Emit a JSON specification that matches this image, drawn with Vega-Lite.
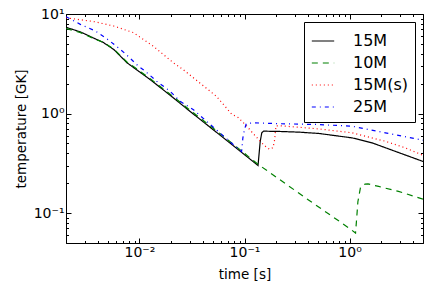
{
  "$schema": "https://vega.github.io/schema/vega-lite/v6.json",
  "autosize": "none",
  "width": 357,
  "height": 229,
  "padding": {"left": 66, "top": 14, "right": 13, "bottom": 51},
  "background": "white",
  "config": {
    "font": "DejaVu Sans",
    "view": {"stroke": null},
    "axis": {"grid": false, "domainColor": "black", "tickColor": "black", "labelColor": "black", "titleColor": "black", "labelFont": "DejaVu Sans", "titleFont": "DejaVu Sans", "labelFontSize": 14, "titleFontSize": 13.5, "titleFontWeight": "normal", "domainWidth": 1, "tickWidth": 1}
  },
  "data": {"values": [
    {"series": "15M", "t": 0.002, "T": 7.35},
    {"series": "15M", "t": 0.00275, "T": 6.6},
    {"series": "15M", "t": 0.0037, "T": 5.7},
    {"series": "15M", "t": 0.0045, "T": 5.2},
    {"series": "15M", "t": 0.0057, "T": 4.4},
    {"series": "15M", "t": 0.0076, "T": 3.24},
    {"series": "15M", "t": 0.0126, "T": 2.2},
    {"series": "15M", "t": 0.02, "T": 1.5},
    {"series": "15M", "t": 0.03, "T": 1.06},
    {"series": "15M", "t": 0.045, "T": 0.755},
    {"series": "15M", "t": 0.06, "T": 0.594},
    {"series": "15M", "t": 0.08, "T": 0.466},
    {"series": "15M", "t": 0.1, "T": 0.386},
    {"series": "15M", "t": 0.12, "T": 0.331},
    {"series": "15M", "t": 0.1345, "T": 0.3},
    {"series": "15M", "t": 0.141, "T": 0.52},
    {"series": "15M", "t": 0.146, "T": 0.64},
    {"series": "15M", "t": 0.152, "T": 0.665},
    {"series": "15M", "t": 0.22, "T": 0.66},
    {"series": "15M", "t": 0.33, "T": 0.65},
    {"series": "15M", "t": 0.513, "T": 0.63},
    {"series": "15M", "t": 1.06, "T": 0.569},
    {"series": "15M", "t": 1.64, "T": 0.507},
    {"series": "15M", "t": 2.72, "T": 0.417},
    {"series": "15M", "t": 5, "T": 0.33},

    {"series": "10M", "t": 0.002, "T": 7.15},
    {"series": "10M", "t": 0.00275, "T": 6.5},
    {"series": "10M", "t": 0.0037, "T": 5.65},
    {"series": "10M", "t": 0.0045, "T": 5.2},
    {"series": "10M", "t": 0.0057, "T": 4.45},
    {"series": "10M", "t": 0.0076, "T": 3.3},
    {"series": "10M", "t": 0.0126, "T": 2.25},
    {"series": "10M", "t": 0.02, "T": 1.54},
    {"series": "10M", "t": 0.03, "T": 1.09},
    {"series": "10M", "t": 0.045, "T": 0.78},
    {"series": "10M", "t": 0.06, "T": 0.615},
    {"series": "10M", "t": 0.08, "T": 0.482},
    {"series": "10M", "t": 0.1, "T": 0.398},
    {"series": "10M", "t": 0.12, "T": 0.34},
    {"series": "10M", "t": 0.14, "T": 0.3},
    {"series": "10M", "t": 0.2, "T": 0.23},
    {"series": "10M", "t": 0.4, "T": 0.137},
    {"series": "10M", "t": 0.7, "T": 0.091},
    {"series": "10M", "t": 1.0, "T": 0.07},
    {"series": "10M", "t": 1.14, "T": 0.063},
    {"series": "10M", "t": 1.17, "T": 0.09},
    {"series": "10M", "t": 1.2, "T": 0.13},
    {"series": "10M", "t": 1.27, "T": 0.18},
    {"series": "10M", "t": 1.4, "T": 0.195},
    {"series": "10M", "t": 1.5, "T": 0.196},
    {"series": "10M", "t": 1.89, "T": 0.185},
    {"series": "10M", "t": 2.92, "T": 0.165},
    {"series": "10M", "t": 5, "T": 0.138},

    {"series": "15M(s)", "t": 0.002, "T": 9.15},
    {"series": "15M(s)", "t": 0.00367, "T": 8.4},
    {"series": "15M(s)", "t": 0.00568, "T": 7.57},
    {"series": "15M(s)", "t": 0.00877, "T": 6.5},
    {"series": "15M(s)", "t": 0.0135, "T": 4.76},
    {"series": "15M(s)", "t": 0.021, "T": 3.24},
    {"series": "15M(s)", "t": 0.026, "T": 2.77},
    {"series": "15M(s)", "t": 0.054, "T": 1.49},
    {"series": "15M(s)", "t": 0.0757, "T": 0.984},
    {"series": "15M(s)", "t": 0.0871, "T": 0.911},
    {"series": "15M(s)", "t": 0.1045, "T": 0.752},
    {"series": "15M(s)", "t": 0.121, "T": 0.629},
    {"series": "15M(s)", "t": 0.14, "T": 0.531},
    {"series": "15M(s)", "t": 0.156, "T": 0.473},
    {"series": "15M(s)", "t": 0.173, "T": 0.437},
    {"series": "15M(s)", "t": 0.187, "T": 0.455},
    {"series": "15M(s)", "t": 0.194, "T": 0.551},
    {"series": "15M(s)", "t": 0.197, "T": 0.67},
    {"series": "15M(s)", "t": 0.2, "T": 0.752},
    {"series": "15M(s)", "t": 0.224, "T": 0.752},
    {"series": "15M(s)", "t": 0.513, "T": 0.7},
    {"series": "15M(s)", "t": 1.06, "T": 0.64},
    {"series": "15M(s)", "t": 2.19, "T": 0.526},
    {"series": "15M(s)", "t": 3.39, "T": 0.452},
    {"series": "15M(s)", "t": 5, "T": 0.38},

    {"series": "25M", "t": 0.002, "T": 9.4},
    {"series": "25M", "t": 0.00274, "T": 7.87},
    {"series": "25M", "t": 0.00381, "T": 6.75},
    {"series": "25M", "t": 0.00509, "T": 5.47},
    {"series": "25M", "t": 0.00657, "T": 4.41},
    {"series": "25M", "t": 0.0076, "T": 3.86},
    {"series": "25M", "t": 0.00978, "T": 2.99},
    {"series": "25M", "t": 0.0113, "T": 2.67},
    {"series": "25M", "t": 0.0146, "T": 2.11},
    {"series": "25M", "t": 0.0195, "T": 1.68},
    {"series": "25M", "t": 0.0243, "T": 1.33},
    {"series": "25M", "t": 0.0324, "T": 1.1},
    {"series": "25M", "t": 0.0672, "T": 0.56},
    {"series": "25M", "t": 0.0938, "T": 0.414},
    {"series": "25M", "t": 0.0965, "T": 0.569},
    {"series": "25M", "t": 0.1, "T": 0.69},
    {"series": "25M", "t": 0.104, "T": 0.793},
    {"series": "25M", "t": 0.124, "T": 0.806},
    {"series": "25M", "t": 0.214, "T": 0.79},
    {"series": "25M", "t": 0.513, "T": 0.775},
    {"series": "25M", "t": 1.06, "T": 0.745},
    {"series": "25M", "t": 2.19, "T": 0.64},
    {"series": "25M", "t": 5, "T": 0.54}
  ]},
  "resolve": {"axis": {"x": "independent", "y": "independent"}},
  "layer": [
    {
      "mark": {"type": "line", "strokeWidth": 1.2, "clip": true},
      "encoding": {
        "x": {"field": "t", "type": "quantitative", "scale": {"type": "log", "domain": [0.002, 5], "nice": false},
          "axis": {"orient": "bottom", "values": [0.01, 0.1, 1], "labelExpr": "datum.value == 0.01 ? '10⁻²' : datum.value == 0.1 ? '10⁻¹' : '10⁰'", "ticks": true, "tickSize": -5, "labelPadding": 7, "title": "time [s]", "titlePadding": 8, "labelFlush": false}},
        "y": {"field": "T", "type": "quantitative", "scale": {"type": "log", "domain": [0.05, 10], "nice": false},
          "axis": {"orient": "left", "values": [0.1, 1, 10], "labelExpr": "datum.value == 0.1 ? '10⁻¹' : datum.value == 1 ? '10⁰' : '10¹'", "ticks": true, "tickSize": -5, "labelPadding": 7, "title": "temperature [GK]", "titlePadding": 5, "labelFlush": false}},
        "color": {"field": "series", "type": "nominal", "sort": ["15M", "10M", "15M(s)", "25M"],
          "scale": {"domain": ["15M", "10M", "15M(s)", "25M"], "range": ["#000000", "#008000", "#ff0000", "#0000ff"]},
          "legend": {"title": null, "orient": "none", "legendX": 238, "legendY": 8, "strokeColor": "black", "fillColor": "white", "padding": 7, "symbolType": "stroke", "symbolSize": 500, "symbolStrokeWidth": 1.2, "labelFontSize": 16, "labelFont": "DejaVu Sans", "labelColor": "black", "labelOffset": 18, "rowPadding": 2, "cornerRadius": 0}},
        "strokeDash": {"field": "series", "type": "nominal", "sort": ["15M", "10M", "15M(s)", "25M"],
          "scale": {"domain": ["15M", "10M", "15M(s)", "25M"], "range": [[1, 0], [6, 5], [1, 3], [4, 4, 1, 4]]},
          "legend": {"title": null, "orient": "none", "legendX": 238, "legendY": 8}}
      }
    },
    {
      "mark": {"type": "point", "opacity": 0},
      "encoding": {
        "x": {"field": "t", "type": "quantitative", "scale": {"type": "log", "domain": [0.002, 5], "nice": false},
          "axis": {"orient": "bottom", "values": [0.002, 0.003, 0.004, 0.005, 0.006, 0.007, 0.008, 0.009, 0.02, 0.03, 0.04, 0.05, 0.06, 0.07, 0.08, 0.09, 0.2, 0.3, 0.4, 0.5, 0.6, 0.7, 0.8, 0.9, 2, 3, 4, 5], "labels": false, "tickSize": -2.5, "domain": false, "title": null}},
        "y": {"field": "T", "type": "quantitative", "scale": {"type": "log", "domain": [0.05, 10], "nice": false},
          "axis": {"orient": "left", "values": [0.05, 0.06, 0.07, 0.08, 0.09, 0.2, 0.3, 0.4, 0.5, 0.6, 0.7, 0.8, 0.9, 2, 3, 4, 5, 6, 7, 8, 9], "labels": false, "tickSize": -2.5, "domain": false, "title": null}}
      }
    },
    {
      "mark": {"type": "point", "opacity": 0},
      "encoding": {
        "x": {"field": "t", "type": "quantitative", "scale": {"type": "log", "domain": [0.002, 5], "nice": false},
          "axis": {"orient": "top", "values": [0.01, 0.1, 1], "labels": false, "tickSize": -5, "domain": true, "title": null}},
        "y": {"field": "T", "type": "quantitative", "scale": {"type": "log", "domain": [0.05, 10], "nice": false},
          "axis": {"orient": "right", "values": [0.1, 1, 10], "labels": false, "tickSize": -5, "domain": true, "title": null}}
      }
    },
    {
      "mark": {"type": "point", "opacity": 0},
      "encoding": {
        "x": {"field": "t", "type": "quantitative", "scale": {"type": "log", "domain": [0.002, 5], "nice": false},
          "axis": {"orient": "top", "values": [0.002, 0.003, 0.004, 0.005, 0.006, 0.007, 0.008, 0.009, 0.02, 0.03, 0.04, 0.05, 0.06, 0.07, 0.08, 0.09, 0.2, 0.3, 0.4, 0.5, 0.6, 0.7, 0.8, 0.9, 2, 3, 4, 5], "labels": false, "tickSize": -2.5, "domain": false, "title": null}},
        "y": {"field": "T", "type": "quantitative", "scale": {"type": "log", "domain": [0.05, 10], "nice": false},
          "axis": {"orient": "right", "values": [0.05, 0.06, 0.07, 0.08, 0.09, 0.2, 0.3, 0.4, 0.5, 0.6, 0.7, 0.8, 0.9, 2, 3, 4, 5, 6, 7, 8, 9], "labels": false, "tickSize": -2.5, "domain": false, "title": null}}
      }
    }
  ]
}
